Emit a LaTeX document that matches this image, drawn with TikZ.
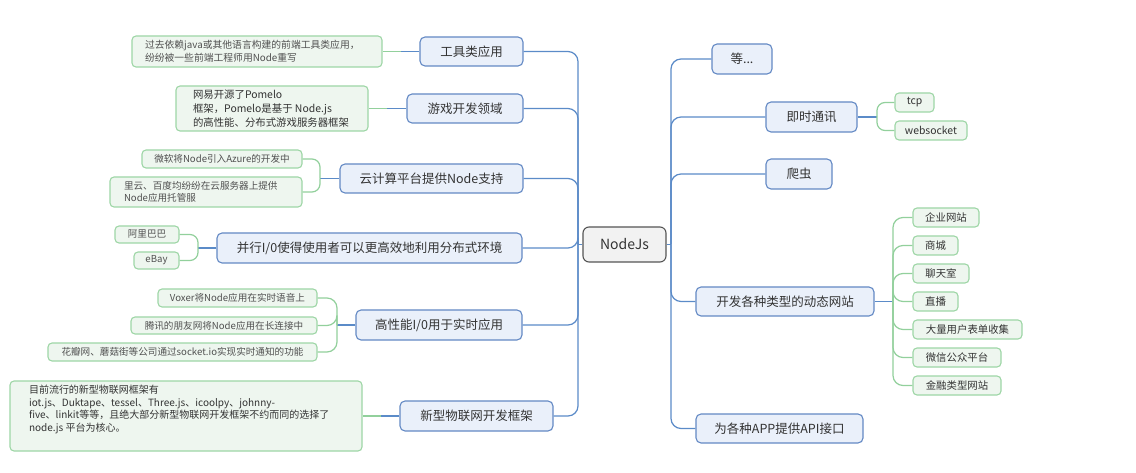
\documentclass[tikz,border=0pt]{standalone}
\usepackage{fontspec}
\setmainfont{Noto Sans CJK SC}
\definecolor{mainfill}{HTML}{EAF0FA}
\definecolor{mainline}{HTML}{6389C4}
\definecolor{leaffill}{HTML}{EEF6EF}
\definecolor{leafline}{HTML}{9ED6A6}
\definecolor{bcol}{HTML}{5B8BC8}
\definecolor{gcol}{HTML}{92D09C}
\definecolor{cfill}{HTML}{F2F2F2}
\definecolor{cline}{HTML}{555555}
\definecolor{txt}{HTML}{333333}
\definecolor{txtleaf}{HTML}{505050}
\tikzset{
  mainbox/.style={draw=mainline, fill=mainfill, line width=1.1pt, rounded corners=5pt, inner sep=0pt, text=txt, font=\fontsize{12.5}{15}\selectfont},
  leafbox/.style={draw=leafline, fill=leaffill, line width=1.1pt, rounded corners=4pt, inner sep=0pt, text=txtleaf, font=\fontsize{9.6}{12}\selectfont},
  rleaf/.style={leafbox, font=\fontsize{10.4}{12}\selectfont, text=txt},
  centerbox/.style={draw=cline, fill=cfill, line width=1.1pt, rounded corners=6pt, inner sep=0pt, text=txt, font=\fontsize{14}{16}\selectfont},
  bconn/.style={draw=bcol, line width=1.2pt},
  gconn/.style={draw=gcol, line width=1.2pt},
}
\begin{document}
\begin{tikzpicture}[x=1pt,y=-1pt]
\useasboundingbox[fill=white] (0,0) rectangle (1136,473);

% center
\node[centerbox, minimum width=83pt, minimum height=35pt] (nodejs) at (624.5,244.5) {NodeJs};

% trunks
\coordinate (rt) at (671,244.5);
\coordinate (lt) at (578,244.5);

% right main nodes
\node[mainbox, minimum width=60pt, minimum height=30pt] (deng) at (742,59) {等...};
\node[mainbox, minimum width=91pt, minimum height=30pt] (jishi) at (811.5,117) {即时通讯};
\node[mainbox, minimum width=66pt, minimum height=30pt] (pachong) at (799,174) {爬虫};
\node[mainbox, minimum width=178pt, minimum height=29pt] (kaifa) at (785,301.5) {开发各种类型的动态网站};
\node[mainbox, minimum width=167pt, minimum height=29pt] (api) at (779.5,428.5) {为各种APP提供API接口};

% right leaves
\node[rleaf, minimum width=39pt, minimum height=19pt] (tcp) at (914.5,102.5) {tcp};
\node[rleaf, minimum width=72pt, minimum height=19pt] (websocket) at (931,130.5) {websocket};
\node[rleaf, minimum width=66pt, minimum height=19pt] (qiye) at (946,217.5) {企业网站};
\node[rleaf, minimum width=45pt, minimum height=19pt] (shangcheng) at (935.5,245.5) {商城};
\node[rleaf, minimum width=56pt, minimum height=19pt] (liaotian) at (941,273.5) {聊天室};
\node[rleaf, minimum width=45pt, minimum height=19pt] (zhibo) at (935.5,301.5) {直播};
\node[rleaf, minimum width=109pt, minimum height=19pt] (dali) at (967.5,329.5) {大量用户表单收集};
\node[rleaf, minimum width=88pt, minimum height=19pt] (weixin) at (957,357.5) {微信公众平台};
\node[rleaf, minimum width=88pt, minimum height=19pt] (jinrong) at (957,385.5) {金融类型网站};

% left main nodes
\node[mainbox, minimum width=103pt, minimum height=29pt] (gongju) at (471.5,51.5) {工具类应用};
\node[mainbox, minimum width=116pt, minimum height=29pt] (youxi) at (465,108.5) {游戏开发领域};
\node[mainbox, minimum width=183pt, minimum height=29pt] (yun) at (431.5,178.5) {云计算平台提供Node支持};
\node[mainbox, minimum width=305pt, minimum height=30pt] (bingxing) at (369.5,248) {并行I/0使得使用者可以更高效地利用分布式环境};
\node[mainbox, minimum width=166pt, minimum height=30pt] (gaoxing) at (439,325) {高性能I/0用于实时应用};
\node[mainbox, minimum width=153pt, minimum height=30pt] (wulian) at (476.5,416) {新型物联网开发框架};

% left leaves
\node[leafbox, minimum width=250pt, minimum height=31pt, font=\fontsize{9.8}{12.5}\selectfont] (lgongju) at (257,51.5)
  {\parbox{224pt}{\raggedright 过去依赖java或其他语言构建的前端工具类应用，\\纷纷被一些前端工程师用Node重写}};
\node[leafbox, minimum width=192pt, minimum height=45pt, font=\fontsize{10.4}{14}\selectfont, text=txt] (lyouxi) at (272,108.5)
  {\parbox{158pt}{\raggedright 网易开源了Pomelo\\框架，Pomelo是基于 Node.js\\的高性能、分布式游戏服务器框架}};
\node[leafbox, minimum width=160pt, minimum height=18pt] (lyun1) at (222,159) {微软将Node引入Azure的开发中};
\node[leafbox, minimum width=192pt, minimum height=30pt] (lyun2) at (206,192)
  {\parbox{164pt}{\raggedright 里云、百度均纷纷在云服务器上提供\\Node应用托管服}};
\node[leafbox, minimum width=64pt, minimum height=17pt] (lal) at (147,234.5) {阿里巴巴};
\node[leafbox, minimum width=45pt, minimum height=17pt] (lebay) at (156.5,260.5) {eBay};
\node[leafbox, minimum width=159pt, minimum height=18pt] (lvoxer) at (237.5,298) {Voxer将Node应用在实时语音上};
\node[leafbox, minimum width=186pt, minimum height=17pt] (ltx) at (224,325.5) {腾讯的朋友网将Node应用在长连接中};
\node[leafbox, minimum width=269pt, minimum height=18pt] (lhb) at (182.5,352) {花瓣网、蘑菇街等公司通过socket.io实现实时通知的功能};
\node[leafbox, minimum width=352pt, minimum height=70pt, font=\fontsize{10}{12.7}\selectfont, text=txt] (lwl) at (186,416)
  {\parbox[c][62pt][t]{314pt}{\raggedright 目前流行的新型物联网框架有\\iot.js、Duktape、tessel、Three.js、icoolpy、johnny-\\five、linkit等等，且绝大部分新型物联网开发框架不约而同的选择了\\node.js 平台为核心。}};

% branch points
\coordinate (jb) at (877,117);
\coordinate (kb) at (893,301.5);
\coordinate (gb) at (401,51.5);
\coordinate (yb) at (387,108.5);
\coordinate (cb) at (320,178.5);
\coordinate (bb) at (198,248);
\coordinate (hb) at (337,325);
\coordinate (wb) at (381,416);

% center to trunks
\draw[bconn] (nodejs.east) -- (rt);
\draw[bconn] (nodejs.west) -- (lt);
\foreach \n in {deng,jishi,pachong,kaifa,api}
  \draw[bconn, rounded corners=10pt] (rt) |- (\n.west);
\foreach \n in {gongju,youxi,yun,bingxing,gaoxing,wulian}
  \draw[bconn, rounded corners=10pt] (lt) |- (\n.east);

% right sub-branches
\draw[bconn] (jishi.east) -- (jb);
\foreach \n in {tcp,websocket}
  \draw[gconn, rounded corners=8pt] (jb) |- (\n.west);
\draw[bconn] (kaifa.east) -- (kb);
\foreach \n in {qiye,shangcheng,liaotian,zhibo,dali,weixin,jinrong}
  \draw[gconn, rounded corners=10pt] (kb) |- (\n.west);

% left sub-branches
\draw[bconn] (gongju.west) -- (gb);
\draw[gconn] (gb) -- (lgongju.east);
\draw[bconn] (youxi.west) -- (yb);
\draw[gconn] (yb) -- (lyouxi.east);
\draw[bconn] (yun.west) -- (cb);
\foreach \n in {lyun1,lyun2}
  \draw[gconn, rounded corners=8pt] (cb) |- (\n.east);
\draw[bconn] (bingxing.west) -- (bb);
\foreach \n in {lal,lebay}
  \draw[gconn, rounded corners=8pt] (bb) |- (\n.east);
\draw[bconn] (gaoxing.west) -- (hb);
\foreach \n in {lvoxer,ltx,lhb}
  \draw[gconn, rounded corners=10pt] (hb) |- (\n.east);
\draw[bconn] (wulian.west) -- (wb);
\draw[gconn] (wb) -- (lwl.east);
\end{tikzpicture}
\end{document}
